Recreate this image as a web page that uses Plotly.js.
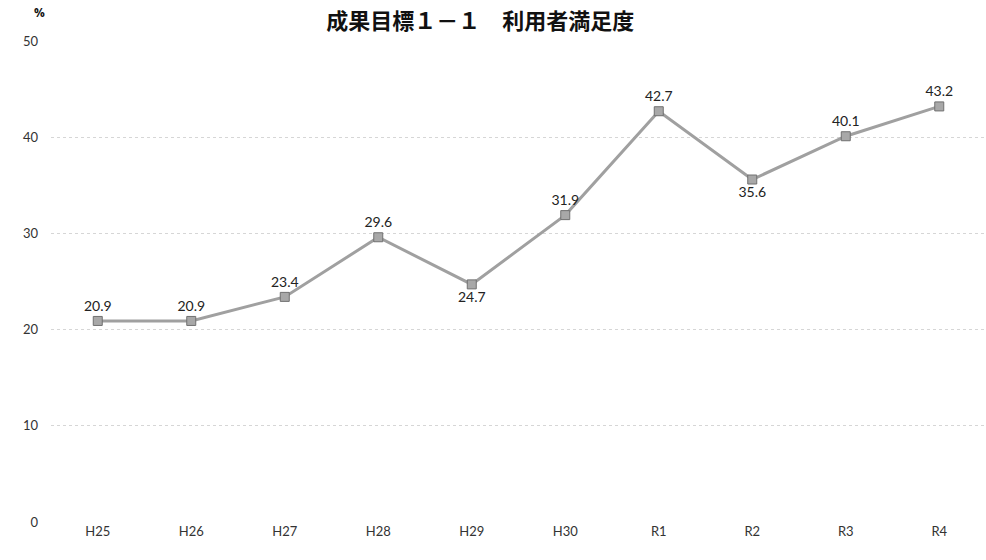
<!DOCTYPE html>
<html>
<head>
<meta charset="utf-8">
<script src="https://cdn.plot.ly/plotly-3.0.1.min.js"></script>
<style>html,body{margin:0;padding:0;background:#fff;}#chart{width:986px;height:560px;}</style>
</head>
<body>
<div id="chart"></div>
<script>
var categories = ["H25","H26","H27","H28","H29","H30","R1","R2","R3","R4"];
var values = [20.9, 20.9, 23.4, 29.6, 24.7, 31.9, 42.7, 35.6, 40.1, 43.2];
var labelPos = ["top center","top center","top center","top center","bottom center","top center","top center","bottom center","top center","top center"];
var yTicks = [0, 10, 20, 30, 40, 50];
var titleText = "成果目標１－１　利用者満足度";

var trace = {
  x: categories,
  y: values,
  type: "scatter",
  mode: "lines+markers+text",
  text: values.map(function(v){return v.toFixed(1);}),
  textposition: labelPos,
  textfont: {family: "Lato, 'Open Sans', sans-serif", size: 14, color: "#222"},
  line: {color: "#a0a0a0", width: 3},
  marker: {symbol: "square", size: 9, color: "#a8a8a8", line: {color: "#707070", width: 1}},
  cliponaxis: false,
  hoverinfo: "skip"
};

var layout = {
  width: 986, height: 560,
  margin: {l: 51, r: 0, t: 41, b: 38},
  paper_bgcolor: "#fff", plot_bgcolor: "#fff",
  showlegend: false,
  title: {text: "<b>" + titleText + "</b>", font: {family: "'Noto Sans CJK JP', sans-serif", size: 22, color: "#111"}, x: 0.487, xanchor: "center", y: 0.962, yref: "container", yanchor: "middle"},
  xaxis: {
    type: "category", range: [-0.5, 9.5], showgrid: false, zeroline: false, showline: false,
    ticks: "", tickfont: {family: "Lato, 'Open Sans', sans-serif", size: 13, color: "#333"}
  },
  yaxis: {
    range: [0, 50], tickvals: yTicks, ticktext: yTicks.map(String),
    showgrid: true, gridcolor: "#d6d6d6", griddash: "dot", gridwidth: 1,
    zeroline: false, showline: false, ticks: "", ticklabelstandoff: 12,
    tickfont: {family: "Lato, 'Open Sans', sans-serif", size: 13, color: "#333"}
  },
  annotations: [{
    text: "<b>%</b>", xref: "paper", yref: "paper", x: -0.012, y: 1.06, xanchor: "center", yanchor: "middle",
    showarrow: false, font: {family: "'Open Sans', sans-serif", size: 12, color: "#111"}
  }]
};

Plotly.newPlot("chart", [trace], layout, {displayModeBar: false, staticPlot: true});
</script>
</body>
</html>
